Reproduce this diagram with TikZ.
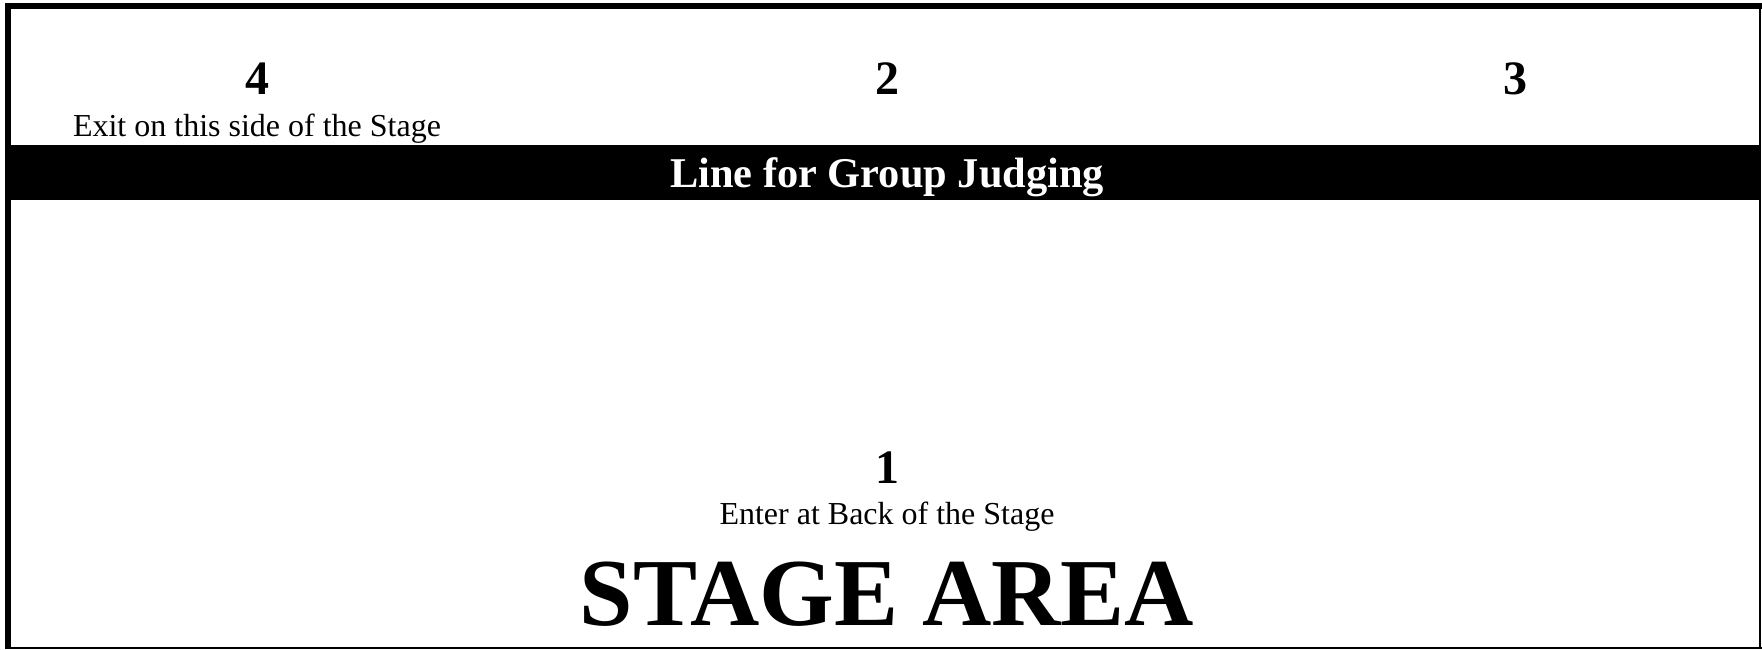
\documentclass[tikz,border=0pt]{standalone}
\usepackage{fontspec}
\setmainfont{Liberation Serif}
\usepackage{xcolor}
\definecolor{inkBlack}{HTML}{000000}
\definecolor{paperWhite}{HTML}{FFFFFF}
\usepackage{tikz}
\usetikzlibrary{positioning}
\tikzset{
    % Base style for all labels
    stage base/.style={
        inner sep=0pt,
        anchor=base,
        text=inkBlack,
    },
    % Position numbers - big bold digits
    spot number/.style={
        stage base,
        font=\fontsize{24}{28}\selectfont\bfseries,
    },
    % Small notes under the numbers
    spot note/.style={
        stage base,
        font=\fontsize{16}{19}\selectfont,
    },
    % Text in the black judging band
    band text/.style={
        stage base,
        font=\fontsize{21.2}{26}\selectfont\bfseries,
        text=paperWhite,
    },
    % Title at the bottom
    stage title/.style={
        stage base,
        font=\fontsize{48}{56}\selectfont\bfseries,
    },
    % Frame edges
    heavy edge/.style={draw=inkBlack, line width=3pt},
    light edge/.style={draw=inkBlack, line width=1.25pt},
    hair edge/.style={draw=inkBlack, line width=0.75pt},
}

\begin{document}
\begin{tikzpicture}[x=0.5pt, y=-0.5pt]
    \useasboundingbox (0,0) rectangle (1762,649);
    \fill[paperWhite] (0,0) rectangle (1762,649);

    % judging band
    \fill[inkBlack] (11,145) rectangle (1759,200);

    % frame
    \draw[heavy edge] (5,6) -- (1762,6);
    \draw[heavy edge] (8,3) -- (8,649);
    \draw[light edge] (1760,6) -- (1760,649);
    \draw[hair edge] (5,648.2) -- (1762,648.2);

    \node[spot number] (spot4) at (257,94) {4};
    \node[spot note, below=21pt of spot4.base, anchor=base] (exit) {Exit on this side of the Stage};
    \node[spot number] (spot2) at (887,94) {2};
    \node[spot number] (spot3) at (1515,94) {3};
    \node[band text] (judging) at (887,187) {Line for Group Judging};

    \node[spot number] (spot1) at (887,483) {1};
    \node[spot note, below=20.5pt of spot1.base, anchor=base] (enter) {Enter at Back of the Stage};
    \node[stage title, below=50.5pt of enter.base, anchor=base] (stage) {STAGE AREA};
\end{tikzpicture}
\end{document}
